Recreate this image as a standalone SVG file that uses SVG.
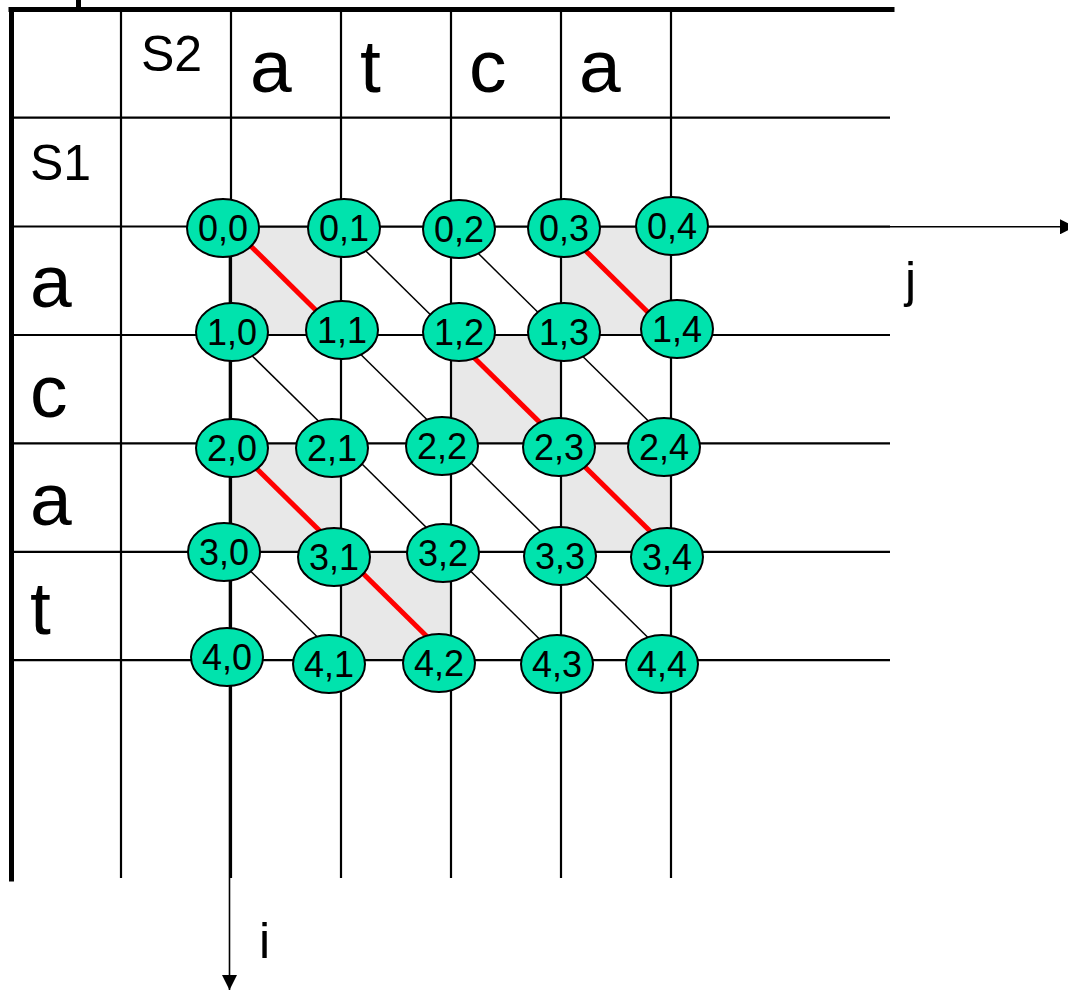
<svg xmlns="http://www.w3.org/2000/svg" width="1068" height="990" viewBox="0 0 1068 990">
  <style>
    .frame { stroke: #000; stroke-width: 5; fill: none; stroke-linecap: square; }
    .grid { stroke: #000; stroke-width: 2.2; fill: none; }
    .cell { fill: #e8e8e8; stroke: none; }
    .diag { stroke: #000; stroke-width: 1.5; }
    .match { stroke: #ff0000; stroke-width: 5; }
    .axis { stroke: #000; stroke-width: 1.6; fill: none; }
    .node ellipse { fill: #00e3ad; stroke: #000; stroke-width: 2; }
    .node text { font-family: "Liberation Sans", Arial, sans-serif; font-size: 36px; text-anchor: middle; fill: #000; }
    .big { font-family: "Liberation Sans", Arial, sans-serif; font-size: 75px; fill: #000; }
    .lbl { font-family: "Liberation Sans", Arial, sans-serif; font-size: 50px; fill: #000; }
  </style>
  <defs>
    <marker id="arrow" viewBox="0 0 15 15" refX="15" refY="7.5" markerWidth="15" markerHeight="15" markerUnits="userSpaceOnUse" orient="auto">
      <path d="M0,0 L15,7.5 L0,15 z" fill="#000"/>
    </marker>
  </defs>

  <rect width="1068" height="990" fill="#fff"/>

  <!-- shaded cells holding a matching diagonal -->
  <g id="cells">
    <rect class="cell" x="231" y="226" width="110" height="109"/>
    <rect class="cell" x="561" y="226" width="110" height="109"/>
    <rect class="cell" x="451" y="335" width="110" height="108"/>
    <rect class="cell" x="231" y="443" width="110" height="109"/>
    <rect class="cell" x="561" y="443" width="110" height="109"/>
    <rect class="cell" x="341" y="552" width="110" height="108"/>
  </g>

  <!-- table grid -->
  <g id="grid">
    <line class="grid" x1="13" y1="117.7" x2="890" y2="117.7"/>
    <line class="grid" x1="13" y1="226.5" x2="890" y2="226.5"/>
    <line class="grid" x1="13" y1="335" x2="890" y2="335"/>
    <line class="grid" x1="13" y1="443.3" x2="890" y2="443.3"/>
    <line class="grid" x1="13" y1="551.8" x2="890" y2="551.8"/>
    <line class="grid" x1="13" y1="660.2" x2="890" y2="660.2"/>
    <line class="grid" x1="121" y1="10" x2="121" y2="878"/>
    <line class="grid" x1="231" y1="10" x2="231" y2="878"/>
    <line class="grid" x1="341" y1="10" x2="341" y2="878"/>
    <line class="grid" x1="451" y1="10" x2="451" y2="878"/>
    <line class="grid" x1="561" y1="10" x2="561" y2="878"/>
    <line class="grid" x1="671" y1="10" x2="671" y2="878"/>
    <line class="frame" x1="11" y1="9.5" x2="892" y2="9.5"/>
    <line class="frame" x1="11.5" y1="9.5" x2="11.5" y2="879"/>
    <line class="frame" x1="78.5" y1="0" x2="78.5" y2="9" stroke-linecap="butt"/>
  </g>

  <!-- sequence labels -->
  <g id="labels">
    <text class="lbl" x="141" y="71">S2</text>
    <text class="lbl" x="30" y="180">S1</text>
    <text class="big" x="250" y="92">a</text>
    <text class="big" x="360" y="92">t</text>
    <text class="big" x="469" y="92">c</text>
    <text class="big" x="579" y="92">a</text>
    <text class="big" x="30" y="307">a</text>
    <text class="big" x="30" y="417">c</text>
    <text class="big" x="30" y="525">a</text>
    <text class="big" x="30" y="634">t</text>
    <text class="lbl" x="905" y="297">j</text>
    <text class="lbl" x="259" y="958">i</text>
  </g>

  <!-- connectors: axes and diagonal edges -->
  <g id="connectors">
    <line class="axis" x1="223" y1="226.8" x2="1075" y2="226.8" marker-end="url(#arrow)"/>
    <line class="axis" x1="229.5" y1="228" x2="229.5" y2="990" marker-end="url(#arrow)"/>

    <line class="diag" x1="341" y1="226.5" x2="451" y2="335"/>
    <line class="diag" x1="451" y1="226.5" x2="561" y2="335"/>
    <line class="diag" x1="231" y1="335" x2="341" y2="443.3"/>
    <line class="diag" x1="341" y1="335" x2="451" y2="443.3"/>
    <line class="diag" x1="561" y1="335" x2="671" y2="443.3"/>
    <line class="diag" x1="341" y1="443.3" x2="451" y2="551.8"/>
    <line class="diag" x1="451" y1="443.3" x2="561" y2="551.8"/>
    <line class="diag" x1="231" y1="551.8" x2="341" y2="660.2"/>
    <line class="diag" x1="451" y1="551.8" x2="561" y2="660.2"/>
    <line class="diag" x1="561" y1="551.8" x2="671" y2="660.2"/>

    <line class="match" x1="231" y1="226.5" x2="341" y2="335"/>
    <line class="match" x1="561" y1="226.5" x2="671" y2="335"/>
    <line class="match" x1="451" y1="335" x2="561" y2="443.3"/>
    <line class="match" x1="231" y1="443.3" x2="341" y2="551.8"/>
    <line class="match" x1="561" y1="443.3" x2="671" y2="551.8"/>
    <line class="match" x1="341" y1="551.8" x2="451" y2="660.2"/>
  </g>

  <!-- lattice nodes -->
  <g id="n00" class="node"><ellipse cx="223" cy="228" rx="36" ry="29"/><text x="223" y="241">0,0</text></g>
  <g id="n01" class="node"><ellipse cx="344" cy="228" rx="36" ry="29"/><text x="344" y="241">0,1</text></g>
  <g id="n02" class="node"><ellipse cx="459" cy="229" rx="36" ry="29"/><text x="459" y="242">0,2</text></g>
  <g id="n03" class="node"><ellipse cx="564" cy="228" rx="36" ry="29"/><text x="564" y="241">0,3</text></g>
  <g id="n04" class="node"><ellipse cx="672" cy="226" rx="36" ry="29"/><text x="672" y="239">0,4</text></g>

  <g id="n10" class="node"><ellipse cx="232" cy="332" rx="36" ry="29"/><text x="232" y="345">1,0</text></g>
  <g id="n11" class="node"><ellipse cx="342" cy="330" rx="36" ry="29"/><text x="342" y="343">1,1</text></g>
  <g id="n12" class="node"><ellipse cx="459" cy="332" rx="36" ry="29"/><text x="459" y="345">1,2</text></g>
  <g id="n13" class="node"><ellipse cx="564" cy="332" rx="36" ry="29"/><text x="564" y="345">1,3</text></g>
  <g id="n14" class="node"><ellipse cx="677" cy="329" rx="36" ry="29"/><text x="677" y="342">1,4</text></g>

  <g id="n20" class="node"><ellipse cx="232" cy="448" rx="36" ry="29"/><text x="232" y="461">2,0</text></g>
  <g id="n21" class="node"><ellipse cx="332" cy="448" rx="36" ry="29"/><text x="332" y="461">2,1</text></g>
  <g id="n22" class="node"><ellipse cx="442" cy="446" rx="36" ry="29"/><text x="442" y="459">2,2</text></g>
  <g id="n23" class="node"><ellipse cx="559" cy="447" rx="36" ry="29"/><text x="559" y="460">2,3</text></g>
  <g id="n24" class="node"><ellipse cx="664" cy="447" rx="36" ry="29"/><text x="664" y="460">2,4</text></g>

  <g id="n30" class="node"><ellipse cx="224" cy="552" rx="36" ry="29"/><text x="224" y="565">3,0</text></g>
  <g id="n31" class="node"><ellipse cx="334" cy="557" rx="36" ry="29"/><text x="334" y="570">3,1</text></g>
  <g id="n32" class="node"><ellipse cx="443" cy="553" rx="36" ry="29"/><text x="443" y="566">3,2</text></g>
  <g id="n33" class="node"><ellipse cx="560" cy="556" rx="36" ry="29"/><text x="560" y="569">3,3</text></g>
  <g id="n34" class="node"><ellipse cx="667" cy="557" rx="36" ry="29"/><text x="667" y="570">3,4</text></g>

  <g id="n40" class="node"><ellipse cx="227" cy="657" rx="36" ry="29"/><text x="227" y="670">4,0</text></g>
  <g id="n41" class="node"><ellipse cx="329" cy="664" rx="36" ry="29"/><text x="329" y="677">4,1</text></g>
  <g id="n42" class="node"><ellipse cx="439" cy="663" rx="36" ry="29"/><text x="439" y="676">4,2</text></g>
  <g id="n43" class="node"><ellipse cx="557" cy="664" rx="36" ry="29"/><text x="557" y="677">4,3</text></g>
  <g id="n44" class="node"><ellipse cx="662" cy="664" rx="36" ry="29"/><text x="662" y="677">4,4</text></g>
</svg>
